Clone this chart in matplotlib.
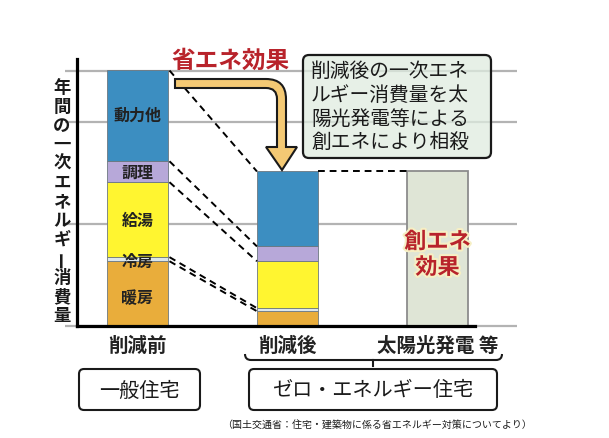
import matplotlib
matplotlib.use('Agg')
import matplotlib.pyplot as plt
import matplotlib.patheffects as pe
from matplotlib.patches import FancyBboxPatch, PathPatch
from matplotlib.path import Path
import numpy as np

plt.rcParams['font.family'] = ['Noto Sans CJK JP', 'DejaVu Sans']

categories = ['削減前', '削減後', '太陽光発電 等']
uses = ['暖房', '冷房', '給湯', '調理', '動力他']
before = [1.27, 0.08, 1.47, 0.41, 1.78]
after = [0.29, 0.06, 0.92, 0.29, 1.47]
solar = [sum(after)]
use_colors = ['#e9ad3b', '#dde7ec', '#fff530', '#b7a8d9', '#3c8ec1']
grid_vals = [0, 2, 4, 5]
ylabel = '年間の一次エネルギー消費量'
callout = ['削減後の一次エネ', 'ルギー消費量を太', '陽光発電等による', '創エネにより相殺']

fig = plt.figure(figsize=(6.09, 4.39), dpi=100)
ax = fig.add_axes([77/609, 1 - 327/439, 398/609, 267/439])
ax.set_xlim(-0.403, 2.25)
ax.set_ylim(0, 267/51)

w = 0.407
cum1 = np.cumsum(before)
cum2 = np.cumsum(after)

ax.hlines(grid_vals, -0.483, 2.53, colors='#b3b3b3', lw=1.6, zorder=0, clip_on=False)

for i, u in enumerate(uses):
    ax.bar(0, before[i], w, bottom=cum1[i] - before[i], color=use_colors[i],
           edgecolor='#6d7880', lw=0.6, zorder=2)
    ax.bar(1, after[i], w, bottom=cum2[i] - after[i], color=use_colors[i],
           edgecolor='#6d7880', lw=0.6, zorder=2)
ax.bar(2, solar, w, color='#dfe5d6', edgecolor='#8c8c8c', lw=1.3, zorder=2)

# segment labels on the first bar
label_y = [0.56, 1.27, 2.07, 3.02, 4.14]
for u, yy in zip(uses, label_y):
    ax.text(0, yy, u, ha='center', va='center', fontsize=11.5, fontweight='bold',
            color='#222222', zorder=3)

# dashed connectors
for c1, c2 in zip(cum1, cum2):
    ax.plot([w/2 + 0.01, 1 - w/2], [c1, c2], color='k', lw=1.4, ls=(0, (3.5, 2.5)), zorder=3)
ax.plot([1 + w/2, 2 - w/2], [solar[0], solar[0]], color='k', lw=1.4, ls=(0, (3.5, 2.5)), zorder=3)

ax.text(2, 1.4, '創エネ\n効果', ha='center', va='center', fontsize=16, fontweight='bold',
        color='#b8232b', linespacing=1.15, zorder=4,
        path_effects=[pe.withStroke(linewidth=3, foreground='#f6efc4')])

for s in ['top', 'right']:
    ax.spines[s].set_visible(False)
for s in ['left', 'bottom']:
    ax.spines[s].set_linewidth(2.3)
ax.set_yticks([])
ax.set_xticks(range(3), categories)
ax.tick_params(axis='x', length=0, pad=7, labelsize=14)
for t in ax.get_xticklabels():
    t.set_fontweight('bold')
    t.set_color('#222222')
ax.patch.set_alpha(0)

# overlay in pixel coordinates for the decorations
ov = fig.add_axes([0, 0, 1, 1])
ov.set_xlim(0, 609)
ov.set_ylim(439, 0)
ov.axis('off')

ov.text(230, 61, '省エネ効果', ha='center', va='center', fontsize=17, fontweight='bold',
        color='#b8232b')

verts = [(175, 80), (266, 80), (286, 80), (286, 100), (286, 148), (297, 148), (282, 171),
         (266, 148), (277, 148), (277, 100), (277, 89), (266, 89), (175, 89), (175, 80)]
codes = [Path.MOVETO, Path.LINETO, Path.CURVE3, Path.CURVE3, Path.LINETO, Path.LINETO,
         Path.LINETO, Path.LINETO, Path.LINETO, Path.LINETO, Path.CURVE3, Path.CURVE3,
         Path.LINETO, Path.CLOSEPOLY]
ov.add_patch(PathPatch(Path(verts, codes), facecolor='#f4c974', edgecolor='#1a1a1a', lw=1.5))

ov.add_patch(FancyBboxPatch((303, 56), 188, 103, boxstyle='round,pad=0,rounding_size=6',
                            facecolor='#dfece0', alpha=0.75, edgecolor='none'))
ov.add_patch(FancyBboxPatch((303, 56), 188, 103, boxstyle='round,pad=0,rounding_size=6',
                            facecolor='none', edgecolor='#1a1a1a', lw=1.6))
for i, line in enumerate(callout):
    ov.text(311, 71 + 24.3 * i, line, ha='left', va='center', fontsize=14.2, color='#1a1a1a')

for i, ch in enumerate(ylabel):
    ov.text(62, 88 + 19 * i, ch, ha='center', va='center', fontsize=12.5, fontweight='bold',
            color='#1a1a1a', rotation=90 if ch == 'ー' else 0)

# brace under the zero-energy group
bverts = [(245, 355), (245, 361), (251, 361), (496, 361), (502, 361), (502, 355)]
bcodes = [Path.MOVETO, Path.CURVE3, Path.CURVE3, Path.LINETO, Path.CURVE3, Path.CURVE3]
ov.add_patch(PathPatch(Path(bverts, bcodes), facecolor='none', edgecolor='#1a1a1a', lw=1.5))
ov.plot([373, 373], [361, 367], color='#1a1a1a', lw=1.5)

ov.add_patch(FancyBboxPatch((79, 370), 121, 41, boxstyle='round,pad=0,rounding_size=5',
                            facecolor='white', edgecolor='#1a1a1a', lw=1.5))
ov.text(139.5, 391, '一般住宅', ha='center', va='center', fontsize=14.5, color='#1a1a1a')
ov.add_patch(FancyBboxPatch((249, 370), 248, 41, boxstyle='round,pad=0,rounding_size=5',
                            facecolor='white', edgecolor='#1a1a1a', lw=1.5))
ov.text(373, 391, 'ゼロ・エネルギー住宅', ha='center', va='center', fontsize=14.5, color='#1a1a1a')

ov.text(377, 426, '（国土交通省：住宅・建築物に係る省エネルギー対策についてより）',
        ha='center', va='center', fontsize=7.2, color='#1a1a1a')

fig.savefig('out.png', dpi=100)
